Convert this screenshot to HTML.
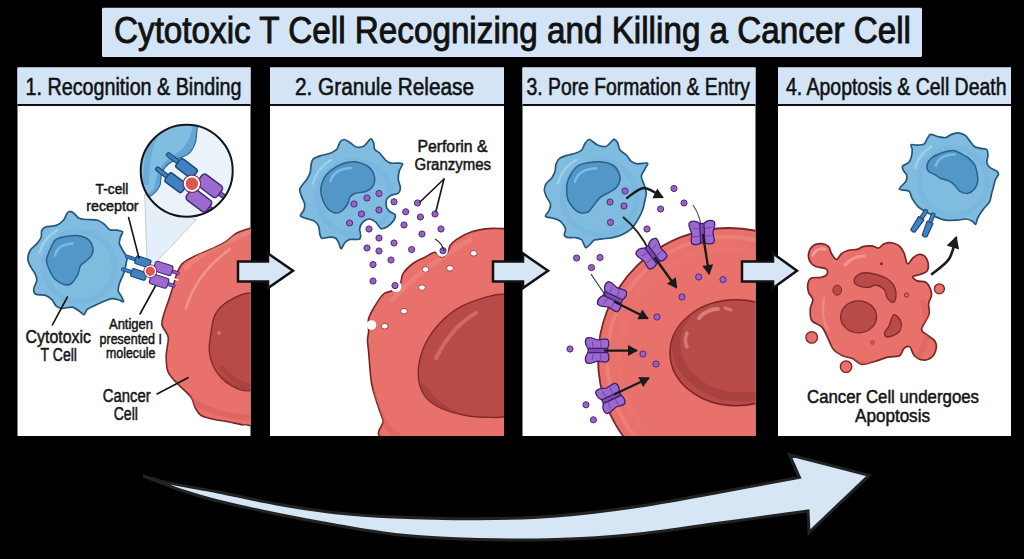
<!DOCTYPE html>
<html><head><meta charset="utf-8"><style>html,body{margin:0;padding:0;background:#000;width:1024px;height:559px;overflow:hidden}svg{display:block}</style></head>
<body><svg width="1024" height="559" viewBox="0 0 1024 559" font-family="Liberation Sans, sans-serif">
<defs><clipPath id="p0"><rect x="17.5" y="106" width="233.0" height="330"/></clipPath><clipPath id="p1"><rect x="270" y="106" width="234" height="330"/></clipPath><clipPath id="p2"><rect x="522.5" y="106" width="233.0" height="330"/></clipPath><clipPath id="p3"><rect x="778" y="106" width="233" height="330"/></clipPath><clipPath id="cc1"><path d="M300,215 C291.6,179.7 260.2,225.3 249.5,228.4 C238.8,231.5 239.9,231.3 236,233.5 C232.1,235.7 229.9,239.1 225.8,241.7 C221.7,244.3 216.5,246.6 211.4,249 C206.3,251.4 199.8,253.6 195,256 C190.2,258.4 185.7,260.3 182.6,263.4 C179.5,266.5 178.2,270.4 176.5,274.7 C174.8,279 173.7,284.6 172.3,289 C170.9,293.4 169.6,297.3 168.2,301.4 C166.8,305.5 165,309.9 164,313.8 C163,317.7 161.3,321.1 162,325 C162.7,328.9 167.5,332.2 168.2,337.3 C168.9,342.4 166.2,350.1 166.2,355.9 C166.2,361.7 166.1,367.5 168.2,372.3 C170.2,377.1 174.7,380.6 178.5,384.7 C182.3,388.8 188.2,393.2 190.9,397 C193.7,400.8 193.3,404.2 195,407.3 C196.7,410.4 197.8,413.4 201.2,415.5 C204.6,417.6 211.1,418.7 215.6,419.7 C220.1,420.7 223.6,420.8 228,421.7 C232.4,422.6 238.6,424.1 242.3,424.8 C246.1,425.5 240.9,423.3 250.5,425.8 C260.1,428.3 291.8,475.1 300,440 C308.2,404.9 308.4,250.3 300,215Z"/></clipPath><clipPath id="nc1"><path d="M250.5,293 C241,293.2 233.8,297.9 228,301.4 C222.2,304.9 218.4,309 215.6,313.8 C212.8,318.6 212.4,323.7 211.4,330 C210.4,336.3 208.7,345 209.4,351.7 C210.1,358.4 212.2,364.8 215.6,370.3 C219,375.8 224.2,381.3 230,384.7 C235.8,388.1 240.5,391.6 250.5,390.8 C260.5,390 281.8,388.5 290,380 C298.2,371.5 300.8,353.3 300,340 C299.2,326.7 293.2,307.8 285,300 C276.8,292.2 260,292.8 250.5,293Z"/></clipPath><clipPath id="mag"><circle cx="186.7" cy="170.7" r="46"/></clipPath><clipPath id="mc"><path d="M130,110 C143.2,94.2 187.8,112 199,115 C210.2,118 197.7,123.3 197,128 C196.3,132.7 196.5,138.7 195,143 C193.5,147.3 191.5,151.2 188,154 C184.5,156.8 177.8,157.8 174,160 C170.2,162.2 167.2,164.3 165,167 C162.8,169.7 161.9,172.8 161,176 C160.1,179.2 161,182.8 159.5,186 C158,189.2 155.2,192.7 152,195 C148.8,197.3 145.3,197.5 140,200 C134.7,202.5 121.7,225 120,210 C118.3,195 116.8,125.8 130,110Z"/></clipPath><clipPath id="tc5"><path d="M70,211.4 C71,211.4 73.2,212.7 74.3,213.6 C75.4,214.5 77,217.1 78.6,217.9 C80.2,218.7 83.7,219.2 86.1,219.5 C88.5,219.8 94.4,219.4 96.8,220 C99.2,220.6 102.6,223 104.3,224.3 C106,225.6 108,228.9 109.7,229.7 C111.4,230.5 115.5,229.9 117.2,230.2 C118.9,230.5 122.2,230.9 122.6,231.8 C123,232.7 120.8,235.6 120.4,237.2 C120,238.8 119.1,241.9 119.4,243.6 C119.7,245.3 121.6,248.1 122.6,250 C123.6,251.9 126.4,255.7 126.9,257.6 C127.4,259.5 126.3,262.3 126,264 C125.7,265.7 125.2,269.1 124.7,270.7 C124.2,272.3 123.3,274.4 122.6,276.1 C121.9,277.8 120,281.6 119.4,283.6 C118.8,285.6 118,289.4 118.3,291.1 C118.6,292.8 120.8,295.1 121.5,296.5 C122.2,297.9 124,301.4 123.6,301.8 C123.2,302.2 119.9,300.1 118.3,299.7 C116.7,299.3 113.5,298.5 111.8,298.6 C110.1,298.7 107.5,299.9 105.4,300.8 C103.3,301.7 98.2,303.9 95.8,305 C93.4,306.1 88.8,308.1 87.2,309.4 C85.6,310.7 85,314.4 84,314.7 C83,315 81.4,312.5 79.8,311.5 C78.2,310.5 74.6,307.6 72.3,307.2 C70,306.8 64.7,308.4 62.6,308.3 C60.5,308.2 57.6,307.2 56.2,306.1 C54.8,305 53.3,301.1 51.9,299.7 C50.5,298.3 47.6,296.1 45.5,295.4 C43.4,294.7 37.4,295.2 35.8,294.3 C34.2,293.4 33.6,290.9 33.7,289 C33.8,287.1 36.8,282.5 36.9,280.4 C37,278.3 35.6,274.8 34.7,272.9 C33.8,271 31.3,268.3 30.4,266.4 C29.5,264.5 27.8,261.2 27.8,259 C27.8,256.8 29.2,252.1 30.4,250 C31.6,247.9 35.5,245.3 36.9,243.6 C38.3,241.9 40.6,238.9 41.2,237.2 C41.8,235.5 41.1,232.2 41.7,230.8 C42.3,229.4 43.6,227.7 45.5,227 C47.4,226.3 53.8,226.3 56.2,225.4 C58.6,224.5 62.3,221.6 63.7,220 C65.1,218.4 66.1,214.7 66.9,213.6 C67.7,212.5 69,211.4 70,211.4Z"/></clipPath><clipPath id="cc2"><path d="M520,228 C517.3,191.9 509.2,228.5 504,228.6 C498.8,228.7 494.2,228.1 488.8,228.6 C483.4,229.1 477,230 471.6,231.8 C466.2,233.6 460.2,237 456.6,239.3 C453,241.6 451.4,243.7 450,245.8 C448.6,248 449.4,250.2 448,252.2 C446.6,254.1 443.7,257.5 441.5,257.5 C439.3,257.5 437.9,252.2 435,252.2 C432.1,252.2 428,255.7 424.4,257.5 C420.8,259.3 417.2,260.3 413.6,263 C410,265.7 405.3,269.9 403,273.6 C400.7,277.3 401.8,282.1 400,285 C398.2,287.9 394.7,289.3 392,290.8 C389.3,292.3 386.4,291.5 383.6,294 C380.8,296.5 377.5,301.7 375,305.8 C372.5,309.9 369.7,314.4 368.6,318.7 C367.5,323 368.8,328.1 368.6,331.6 C368.4,335.2 367.5,336.6 367.5,340 C367.5,343.4 367.9,344.8 368.6,352 C369.3,359.2 370.1,374.5 371.5,383 C372.9,391.5 375.1,396.8 377,403 C378.9,409.2 380.8,413.8 383,420 C385.2,426.2 367.2,435.8 390,440 C412.8,444.2 498.3,480.3 520,445 C541.7,409.7 522.7,264.1 520,228Z"/></clipPath><clipPath id="nc2"><path d="M504,294.3 C496.7,293.8 493.3,295.1 486,297.2 C478.7,299.3 467.7,302.9 460,307.2 C452.3,311.5 445.7,317 440,323 C434.3,329 429.4,335.9 425.8,343 C422.2,350.1 419.7,358.7 418.7,365.9 C417.7,373.1 418.3,380.3 420,386 C421.7,391.7 424.4,396.2 428.7,400.2 C433,404.2 439.1,407.6 445.8,410.2 C452.5,412.8 461.2,414.8 468.8,416 C476.4,417.2 485.8,417.3 491.7,417.4 C497.6,417.5 497.6,418 504,416.8 C510.4,415.6 525.7,429.5 530,410 C534.3,390.5 534.3,319.3 530,300 C525.7,280.7 511.3,294.8 504,294.3Z"/></clipPath><clipPath id="tc8"><path d="M344.4,139.5 C345.7,139.6 348.4,141.7 350,142.7 C351.6,143.7 354.5,146.6 356.4,147 C358.3,147.4 362.1,147.1 364,146 C365.9,144.9 369.1,139.4 370.4,139 C371.7,138.6 373,141.3 373.6,142.7 C374.2,144.1 373.8,147.8 374.7,149.2 C375.6,150.6 378.6,152.1 380,153.5 C381.4,154.9 384,158.7 385.4,160 C386.8,161.3 389.1,162.7 390.8,163.1 C392.5,163.5 396.7,163 398.3,163.1 C399.9,163.2 402.5,163.2 402.6,164.2 C402.7,165.2 400,168.6 399.4,170.6 C398.8,172.6 398.2,176.9 398.3,179.2 C398.4,181.5 400.4,185.9 400.4,187.8 C400.4,189.7 399.6,192.2 398.3,193.2 C397,194.2 392.4,194.5 390.8,195.4 C389.2,196.3 387.1,198.1 386.5,199.7 C385.9,201.3 386.1,205.6 386.5,207.2 C386.9,208.8 388.6,210.5 389.7,211.5 C390.8,212.5 394.4,213.6 395,214.7 C395.6,215.8 395,218.4 394,220 C393,221.6 389.3,225.4 387.6,226.5 C385.9,227.6 382.7,229.2 381.1,228.6 C379.5,228 377.4,223.5 375.8,222.2 C374.2,220.9 371,219 369.3,219 C367.6,219 364.2,220.9 362.9,222.2 C361.6,223.5 360,226.7 359.7,228.6 C359.4,230.5 360.8,234.7 360.7,236.1 C360.6,237.5 360,239 358.6,239.4 C357.2,239.8 351.8,239 350,239.4 C348.2,239.8 346.2,241.2 345,242.5 C343.8,243.8 342,248.9 341.2,249 C340.4,249.1 339.7,245 339,243.6 C338.3,242.2 337.1,239.2 335.8,238.3 C334.5,237.4 331.3,237.2 329.4,237.2 C327.5,237.2 323.2,238.7 321.9,238.3 C320.6,237.9 320.2,235.6 319.8,234 C319.4,232.4 319.4,228.2 318.7,226.5 C318,224.8 316.1,222.2 314.4,221.1 C312.7,220 307.7,219.1 305.8,218.4 C303.9,217.7 300.7,216.9 300.4,215.8 C300.1,214.7 303.1,212 303.7,210.4 C304.3,208.8 305,205.9 304.7,204 C304.4,202.1 302.2,198.4 301.5,196.4 C300.8,194.4 299.1,191.3 299.8,189 C300.5,186.7 305.5,181.4 306.9,179.2 C308.3,177 309.5,174.8 310.1,172.8 C310.7,170.8 310.8,166.1 311.2,164.2 C311.6,162.3 312,159.9 313.3,158.8 C314.6,157.7 318.7,156.3 320.8,155.6 C322.9,154.9 327.3,154.4 329.4,153.5 C331.5,152.6 335.5,150.8 336.9,149.2 C338.3,147.6 339.1,143 340.1,141.7 C341.1,140.4 343.1,139.4 344.4,139.5Z"/></clipPath><clipPath id="cc3"><circle cx="729" cy="359" r="131"/></clipPath><clipPath id="nc3"><ellipse cx="736" cy="352.7" rx="66" ry="53"/></clipPath><clipPath id="tc11"><path d="M589.5,139.5 C591.2,139.7 595.3,144.1 597.5,145 C599.7,145.9 604.1,147 606.3,146.3 C608.5,145.6 612.3,139.9 613.8,139.4 C615.3,138.9 616.7,141.1 617.5,142.5 C618.3,143.9 618.8,148.3 620,150 C621.2,151.7 624.8,153.5 626.3,155 C627.8,156.5 629.8,160.1 631.3,161.3 C632.8,162.5 635.4,163.5 637.6,163.8 C639.8,164.1 646.6,162.5 647.6,163.2 C648.6,163.9 645.8,167.1 645,168.8 C644.2,170.5 641.5,174.3 641.3,176.3 C641.1,178.3 643.1,181.6 643.8,183.8 C644.5,186 646.1,190.4 646.3,192.6 C646.5,194.8 645.5,197.7 645,200 C644.5,202.3 643.6,207.3 642.6,210 C641.6,212.7 639.1,217.5 637.6,220 C636.1,222.5 633.5,226.8 631.3,228.8 C629.1,230.8 623.8,233.8 621.3,235 C618.8,236.2 615,237.1 612.5,237.6 C610,238.1 604.9,238.5 602.5,238.8 C600.1,239.1 595.9,239.3 594.3,240 C592.7,240.7 591.8,242.8 590.6,243.8 C589.4,244.8 586.8,248.1 585.6,247.6 C584.4,247.1 583.1,241.3 581.8,240 C580.5,238.7 577.4,237.9 575.6,237.6 C573.8,237.3 569.5,237.9 568,237.6 C566.5,237.3 564.6,236.2 564.3,235 C564,233.8 566,230.6 565.5,228.8 C565,227 562.2,222.7 560.5,221.3 C558.8,219.9 555,218.9 553,218.2 C551,217.5 546,217.4 545.5,216.3 C545,215.2 548.6,211.7 549.3,210 C550,208.3 550.8,205.5 550.5,203.8 C550.2,202.1 547.6,199.3 546.8,197.5 C546,195.7 544.4,191.9 544.3,190 C544.2,188.1 545.4,184.9 546.4,183.3 C547.4,181.7 550.7,179.6 551.8,178 C552.9,176.4 554.4,173.4 555,171.5 C555.6,169.6 555.4,165.7 556,164 C556.6,162.3 557.9,159.7 559.3,158.6 C560.7,157.5 564.7,156.1 566.8,155.4 C568.9,154.7 573.4,153.9 575.4,153.2 C577.4,152.5 580.5,151.3 581.8,150 C583.1,148.7 584,145 585,143.6 C586,142.2 587.8,139.3 589.5,139.5Z"/></clipPath><clipPath id="cb4"><path d="M808.6,253.7 C809.1,251.1 810.8,247.6 812.9,245.9 C815,244.2 818.9,243.6 821.5,243.7 C824.1,243.8 826.9,244.9 828.6,246.6 C830.3,248.3 830.2,251.5 831.5,253.7 C832.8,255.8 834.8,259.5 836.5,259.5 C838.2,259.5 839.5,255.2 841.5,253.7 C843.5,252.1 846,250.9 848.6,250.2 C851.2,249.5 854.8,250 857.2,249.4 C859.6,248.8 860.6,247.2 863,246.6 C865.4,246 868.9,245.7 871.5,245.9 C874.1,246.1 876.5,248.4 878.6,248 C880.7,247.6 881.9,244.5 884.3,243.7 C886.7,242.9 890.3,242.5 892.9,243 C895.5,243.5 898.1,244.8 900,246.6 C901.9,248.4 903,250.8 904.3,253.7 C905.5,256.6 906.1,263.1 907.5,263.8 C908.9,264.5 911,259.6 912.9,258 C914.8,256.4 916.7,254.8 918.6,254.5 C920.5,254.2 922.8,254.6 924.4,255.9 C926,257.2 927.5,259.8 928,262.3 C928.5,264.8 928.5,268.9 927.2,270.9 C925.9,272.9 922.4,273.6 920,274.5 C917.6,275.4 913.4,275.5 912.9,276.6 C912.4,277.7 915.1,279.9 917.2,280.9 C919.4,281.8 923.7,281.1 925.8,282.3 C927.9,283.5 929,285.9 930,288 C931,290.1 931.7,292.6 931.5,295.2 C931.3,297.8 929,300.6 928.6,303.8 C928.2,307 930.1,310.4 928.9,314.6 C927.7,318.9 921.9,325.9 921.6,329.3 C921.4,332.7 925.2,333.2 927.4,335.2 C929.6,337.1 933.3,338.8 934.8,341 C936.3,343.2 936.7,345.6 936.2,348.3 C935.7,351 934,355.2 931.8,357.1 C929.6,359.1 925.9,360.2 923,360 C920.1,359.8 916.5,357.9 914.3,355.7 C912.1,353.5 911.6,348.1 909.9,346.9 C908.2,345.7 905.7,346.8 904,348.3 C902.3,349.8 902.3,354.2 899.6,355.7 C896.9,357.2 892,356.1 887.9,357.1 C883.8,358.1 879.1,360.3 874.7,361.5 C870.3,362.7 865.2,364.9 861.5,364.4 C857.8,363.9 855.9,360.1 852.7,358.6 C849.5,357.2 845.7,357.2 842.5,355.7 C839.3,354.2 836.2,352.7 833.7,349.8 C831.2,346.9 829.8,341.9 827.8,338.1 C825.8,334.3 824.7,330 822,327.1 C819.3,324.2 813.7,323.6 811.7,320.5 C809.8,317.4 810.1,312.3 810.3,308.8 C810.5,305.3 813.2,302.2 812.9,299.5 C812.6,296.8 809.4,295 808.6,292.4 C807.8,289.8 807.4,286.2 807.9,283.8 C808.4,281.4 809.1,279.1 811.4,278 C813.7,276.9 818.9,278 821.5,277.3 C824.1,276.6 826.5,275.2 827.2,273.8 C827.9,272.4 827.7,270 825.8,268.8 C823.9,267.6 818.3,267.8 815.7,266.6 C813.1,265.4 811.2,263.8 810,261.6 C808.8,259.5 808.1,256.3 808.6,253.7Z"/></clipPath><clipPath id="tc14"><path d="M930.4,134.4 C931.8,134.1 935.9,136.2 937.9,136.6 C939.9,137 943.6,138 945.4,137.7 C947.2,137.4 949.7,135.1 951.4,134.4 C953.1,133.7 956,132.7 957.9,132.8 C959.8,132.9 963.8,134.4 965.4,135.5 C967,136.6 968.6,139.5 969.7,140.9 C970.8,142.3 972.6,145.2 974,146.2 C975.4,147.2 978.7,148 980.4,148.4 C982.1,148.8 985.8,148.5 986.8,149.5 C987.8,150.5 987.9,154.2 987.9,155.9 C987.9,157.6 986.5,160.7 986.8,162.3 C987.1,163.9 988.8,166.6 990.1,167.7 C991.4,168.8 995.4,170 996.5,170.9 C997.6,171.8 998.7,173 998.6,174.1 C998.5,175.2 996,178 995.4,179.5 C994.8,181 994.3,183.9 993.8,185.7 C993.3,187.5 992.3,191.1 991.7,193.3 C991.1,195.5 990.6,199.8 989.5,201.9 C988.4,204 984.7,207.3 983.1,209.4 C981.5,211.5 978.7,216 977.7,218 C976.7,220 976.3,224 975.6,224.4 C974.9,224.8 973.6,221.9 972.3,221.2 C971,220.5 967.9,219.1 965.9,219 C963.9,218.9 960,220 957.3,220.1 C954.6,220.2 948.4,220.5 945.5,220.1 C942.6,219.7 938.2,217.9 935.8,216.9 C933.4,215.9 929.5,213.9 927.2,212.6 C924.9,211.3 920.6,209.1 918.6,207.2 C916.6,205.3 913.5,200.7 912.2,198.6 C910.9,196.5 910.7,192.4 909,191.1 C907.3,189.8 899.7,190.3 899.3,189 C898.9,187.7 904.7,183.4 905.7,181.6 C906.7,179.8 907.1,176.6 906.8,175.2 C906.5,173.8 904.2,172.1 903.6,170.9 C903,169.7 901.8,167.2 902.5,166.1 C903.2,165 907.8,163.7 909,162.3 C910.2,160.9 911.2,157.6 911.6,155.9 C912,154.2 912.3,151 912.2,149.5 C912.1,148 910.5,145.2 911.1,144.6 C911.7,144 914.8,145.3 916.5,145.2 C918.2,145.1 922.6,145 924,144.1 C925.4,143.2 926.3,140 927.2,138.7 C928.1,137.4 929,134.7 930.4,134.4Z"/></clipPath></defs>
<rect width="1024" height="559" fill="#000"/>
<rect x="102" y="7.8" width="820" height="49.2" rx="1.5" fill="#d2e4f5"/>
<text x="114" y="42.5" font-size="37" textLength="797" lengthAdjust="spacingAndGlyphs" fill="#111" stroke="#111" stroke-width="0.9">Cytotoxic T Cell Recognizing and Killing a Cancer Cell</text>
<rect x="17.5" y="67.5" width="233.0" height="368.5" fill="#fff"/>
<rect x="17.5" y="67.5" width="233.0" height="37.5" fill="#d2e4f5"/>
<rect x="17.5" y="104" width="233.0" height="2" fill="#111"/>
<text x="25.5" y="94.5" font-size="23" textLength="216" lengthAdjust="spacingAndGlyphs" fill="#111" stroke="#111" stroke-width="0.55">1. Recognition &amp; Binding</text>
<rect x="270" y="67.5" width="234" height="368.5" fill="#fff"/>
<rect x="270" y="67.5" width="234" height="37.5" fill="#d2e4f5"/>
<rect x="270" y="104" width="234" height="2" fill="#111"/>
<text x="295" y="94.5" font-size="23" textLength="179" lengthAdjust="spacingAndGlyphs" fill="#111" stroke="#111" stroke-width="0.55">2. Granule Release</text>
<rect x="522.5" y="67.5" width="233.0" height="368.5" fill="#fff"/>
<rect x="522.5" y="67.5" width="233.0" height="37.5" fill="#d2e4f5"/>
<rect x="522.5" y="104" width="233.0" height="2" fill="#111"/>
<text x="526.5" y="94.5" font-size="23" textLength="223.5" lengthAdjust="spacingAndGlyphs" fill="#111" stroke="#111" stroke-width="0.55">3. Pore Formation &amp; Entry</text>
<rect x="778" y="67.5" width="233" height="368.5" fill="#fff"/>
<rect x="778" y="67.5" width="233" height="37.5" fill="#d2e4f5"/>
<rect x="778" y="104" width="233" height="2" fill="#111"/>
<text x="786" y="94.5" font-size="23" textLength="220.5" lengthAdjust="spacingAndGlyphs" fill="#111" stroke="#111" stroke-width="0.55">4. Apoptosis &amp; Cell Death</text>
<g clip-path="url(#p0)">
<path d="M300,215 C291.6,179.7 260.2,225.3 249.5,228.4 C238.8,231.5 239.9,231.3 236,233.5 C232.1,235.7 229.9,239.1 225.8,241.7 C221.7,244.3 216.5,246.6 211.4,249 C206.3,251.4 199.8,253.6 195,256 C190.2,258.4 185.7,260.3 182.6,263.4 C179.5,266.5 178.2,270.4 176.5,274.7 C174.8,279 173.7,284.6 172.3,289 C170.9,293.4 169.6,297.3 168.2,301.4 C166.8,305.5 165,309.9 164,313.8 C163,317.7 161.3,321.1 162,325 C162.7,328.9 167.5,332.2 168.2,337.3 C168.9,342.4 166.2,350.1 166.2,355.9 C166.2,361.7 166.1,367.5 168.2,372.3 C170.2,377.1 174.7,380.6 178.5,384.7 C182.3,388.8 188.2,393.2 190.9,397 C193.7,400.8 193.3,404.2 195,407.3 C196.7,410.4 197.8,413.4 201.2,415.5 C204.6,417.6 211.1,418.7 215.6,419.7 C220.1,420.7 223.6,420.8 228,421.7 C232.4,422.6 238.6,424.1 242.3,424.8 C246.1,425.5 240.9,423.3 250.5,425.8 C260.1,428.3 291.8,475.1 300,440 C308.2,404.9 308.4,250.3 300,215Z" fill="#e8716b" stroke="#7a2525" stroke-width="1.6"/>
<g clip-path="url(#cc1)">
<path d="M249,232 C225,242 200,252 186,268" fill="none" stroke="#f08c84" stroke-width="5" opacity="0.6" stroke-linecap="round"/>
<path d="M230,249 C212,262 194,282 186,308" fill="none" stroke="#f4a59d" stroke-width="2.5" opacity="0.7" stroke-linecap="round"/>
<path d="M180,392 C200,410 225,416 252,418" fill="none" stroke="#d65f59" stroke-width="6" opacity="0.6" stroke-linecap="round"/>
</g>
<path d="M250.5,293 C241,293.2 233.8,297.9 228,301.4 C222.2,304.9 218.4,309 215.6,313.8 C212.8,318.6 212.4,323.7 211.4,330 C210.4,336.3 208.7,345 209.4,351.7 C210.1,358.4 212.2,364.8 215.6,370.3 C219,375.8 224.2,381.3 230,384.7 C235.8,388.1 240.5,391.6 250.5,390.8 C260.5,390 281.8,388.5 290,380 C298.2,371.5 300.8,353.3 300,340 C299.2,326.7 293.2,307.8 285,300 C276.8,292.2 260,292.8 250.5,293Z" fill="#b84b48" stroke="#7d2a2a" stroke-width="1.4"/>
<g clip-path="url(#nc1)">
<path d="M222,368 C232,380 242,385 252,386" fill="none" stroke="#a23f3d" stroke-width="5" opacity="0.7" stroke-linecap="round"/>
<path d="M212,370 C222,384 236,390 252,392" fill="none" stroke="#9b3b39" stroke-width="7" opacity="0.6"/>
</g>
<circle cx="219" cy="333" r="2" fill="#e07a75" opacity="0.8"/>
<path d="M144.7,194 L196,220 L155,263 L147,259Z" fill="#e2eef8" stroke="#a9bccb" stroke-width="0.8" opacity="0.9"/>
<circle cx="186.7" cy="170.7" r="46" fill="#eaf3fa"/>
<g clip-path="url(#mag)">
<path d="M130,110 C143.2,94.2 187.8,112 199,115 C210.2,118 197.7,123.3 197,128 C196.3,132.7 196.5,138.7 195,143 C193.5,147.3 191.5,151.2 188,154 C184.5,156.8 177.8,157.8 174,160 C170.2,162.2 167.2,164.3 165,167 C162.8,169.7 161.9,172.8 161,176 C160.1,179.2 161,182.8 159.5,186 C158,189.2 155.2,192.7 152,195 C148.8,197.3 145.3,197.5 140,200 C134.7,202.5 121.7,225 120,210 C118.3,195 116.8,125.8 130,110Z" fill="#80bde0" stroke="#24577a" stroke-width="1.5"/>
<g clip-path="url(#mc)"><path d="M199,118 C196,140 190,152 174,160 C163,168 160,178 159,188 C156,196 148,200 135,203" fill="none" stroke="#5d9fd2" stroke-width="9" opacity="0.8"/><path d="M160,128 C150,140 146,160 146,185" fill="none" stroke="#5d9fd2" stroke-width="6" opacity="0.6"/></g>
<g transform="translate(191.9,183.7) rotate(37) scale(1.0)"><rect x="-38" y="-11" width="17" height="4" rx="1.5" fill="#3f82c2" stroke="#1d4a78" stroke-width="1.2"/><rect x="-24" y="-14.5" width="21" height="11" rx="2.5" fill="#3f82c2" stroke="#1d4a78" stroke-width="1.5"/><rect x="24" y="-11" width="14" height="4" rx="1.5" fill="#8a5cc0" stroke="#47297a" stroke-width="1.2"/><rect x="3" y="-16" width="25" height="14" rx="3.5" fill="#9b6bd0" stroke="#47297a" stroke-width="1.5"/><rect x="-38" y="7" width="17" height="4" rx="1.5" fill="#3f82c2" stroke="#1d4a78" stroke-width="1.2"/><rect x="-24" y="3.5" width="21" height="11" rx="2.5" fill="#3f82c2" stroke="#1d4a78" stroke-width="1.5"/><rect x="24" y="7" width="14" height="4" rx="1.5" fill="#8a5cc0" stroke="#47297a" stroke-width="1.2"/><rect x="3" y="2" width="25" height="14" rx="3.5" fill="#9b6bd0" stroke="#47297a" stroke-width="1.5"/><line x1="-5" y1="0" x2="40" y2="0" stroke="#fff" stroke-width="2.2"/><circle cx="0" cy="0" r="7.2" fill="#de5753" stroke="#fff" stroke-width="1.8"/><circle cx="0" cy="0" r="8.8" fill="none" stroke="#7a2b4c" stroke-width="1"/></g>
</g>
<circle cx="186.7" cy="170.7" r="46" fill="none" stroke="#151515" stroke-width="2"/>
<g>
<path d="M70,211.4 C71,211.4 73.2,212.7 74.3,213.6 C75.4,214.5 77,217.1 78.6,217.9 C80.2,218.7 83.7,219.2 86.1,219.5 C88.5,219.8 94.4,219.4 96.8,220 C99.2,220.6 102.6,223 104.3,224.3 C106,225.6 108,228.9 109.7,229.7 C111.4,230.5 115.5,229.9 117.2,230.2 C118.9,230.5 122.2,230.9 122.6,231.8 C123,232.7 120.8,235.6 120.4,237.2 C120,238.8 119.1,241.9 119.4,243.6 C119.7,245.3 121.6,248.1 122.6,250 C123.6,251.9 126.4,255.7 126.9,257.6 C127.4,259.5 126.3,262.3 126,264 C125.7,265.7 125.2,269.1 124.7,270.7 C124.2,272.3 123.3,274.4 122.6,276.1 C121.9,277.8 120,281.6 119.4,283.6 C118.8,285.6 118,289.4 118.3,291.1 C118.6,292.8 120.8,295.1 121.5,296.5 C122.2,297.9 124,301.4 123.6,301.8 C123.2,302.2 119.9,300.1 118.3,299.7 C116.7,299.3 113.5,298.5 111.8,298.6 C110.1,298.7 107.5,299.9 105.4,300.8 C103.3,301.7 98.2,303.9 95.8,305 C93.4,306.1 88.8,308.1 87.2,309.4 C85.6,310.7 85,314.4 84,314.7 C83,315 81.4,312.5 79.8,311.5 C78.2,310.5 74.6,307.6 72.3,307.2 C70,306.8 64.7,308.4 62.6,308.3 C60.5,308.2 57.6,307.2 56.2,306.1 C54.8,305 53.3,301.1 51.9,299.7 C50.5,298.3 47.6,296.1 45.5,295.4 C43.4,294.7 37.4,295.2 35.8,294.3 C34.2,293.4 33.6,290.9 33.7,289 C33.8,287.1 36.8,282.5 36.9,280.4 C37,278.3 35.6,274.8 34.7,272.9 C33.8,271 31.3,268.3 30.4,266.4 C29.5,264.5 27.8,261.2 27.8,259 C27.8,256.8 29.2,252.1 30.4,250 C31.6,247.9 35.5,245.3 36.9,243.6 C38.3,241.9 40.6,238.9 41.2,237.2 C41.8,235.5 41.1,232.2 41.7,230.8 C42.3,229.4 43.6,227.7 45.5,227 C47.4,226.3 53.8,226.3 56.2,225.4 C58.6,224.5 62.3,221.6 63.7,220 C65.1,218.4 66.1,214.7 66.9,213.6 C67.7,212.5 69,211.4 70,211.4Z" fill="#7fbce0" stroke="#24577a" stroke-width="1.7" stroke-linejoin="round"/>
<g clip-path="url(#tc5)"><circle cx="79.5" cy="266.5" r="35.2" fill="none" stroke="#6aa9d6" stroke-width="5.3" opacity="0.25"/></g>
<path d="M56.2,239.3 C58.9,237.5 65.3,236.5 69,236 C72.7,235.5 77.7,235.3 80.7,236 C83.7,236.7 87.5,238.6 89.3,240.4 C91.1,242.2 92.7,245.8 93,248 C93.3,250.2 92.5,253.5 91.5,255.4 C90.5,257.4 87.6,259.5 86,261 C84.4,262.5 82,263.3 80.7,265.4 C79.4,267.5 79,272.3 77.6,275 C76.2,277.7 73.1,282.1 71.2,283.6 C69.3,285.1 67.2,285.3 64.8,284.7 C62.4,284.1 57.4,281.4 55.1,279.3 C52.8,277.2 51,273.6 49.7,270.7 C48.4,267.8 46.3,263.4 46.5,260 C46.7,256.6 49.3,251.1 50.8,248 C52.3,244.9 53.5,241.1 56.2,239.3Z" fill="#5297c8" stroke="#2a5f8c" stroke-width="1.5"/>
<path d="M39.4,253.2 A37.8,37.8 0 0 1 57.1,230.2" fill="none" stroke="#a9d5ef" stroke-width="2.2" stroke-linecap="round" opacity="0.8"/>
<path d="M55.0,255.5 Q57.5,244.4 72.5,243.5" fill="none" stroke="#86bfe6" stroke-width="2.4" stroke-linecap="round" opacity="0.85"/>
</g>
<g transform="translate(150.3,271.2) rotate(18) scale(0.74)"><rect x="-38" y="-11" width="17" height="4" rx="1.5" fill="#3f82c2" stroke="#1d4a78" stroke-width="1.2"/><rect x="-24" y="-14.5" width="21" height="11" rx="2.5" fill="#3f82c2" stroke="#1d4a78" stroke-width="1.5"/><rect x="24" y="-11" width="14" height="4" rx="1.5" fill="#8a5cc0" stroke="#47297a" stroke-width="1.2"/><rect x="3" y="-16" width="25" height="14" rx="3.5" fill="#9b6bd0" stroke="#47297a" stroke-width="1.5"/><rect x="-38" y="7" width="17" height="4" rx="1.5" fill="#3f82c2" stroke="#1d4a78" stroke-width="1.2"/><rect x="-24" y="3.5" width="21" height="11" rx="2.5" fill="#3f82c2" stroke="#1d4a78" stroke-width="1.5"/><rect x="24" y="7" width="14" height="4" rx="1.5" fill="#8a5cc0" stroke="#47297a" stroke-width="1.2"/><rect x="3" y="2" width="25" height="14" rx="3.5" fill="#9b6bd0" stroke="#47297a" stroke-width="1.5"/><line x1="-5" y1="0" x2="40" y2="0" stroke="#fff" stroke-width="2.2"/><circle cx="0" cy="0" r="7.2" fill="#de5753" stroke="#fff" stroke-width="1.8"/><circle cx="0" cy="0" r="8.8" fill="none" stroke="#7a2b4c" stroke-width="1"/></g>
</g>
<text x="95.6" y="194.3" font-size="15" textLength="32.8" lengthAdjust="spacingAndGlyphs" fill="#151515" stroke="#151515" stroke-width="0.5">T-cell</text>
<text x="86.3" y="210.7" font-size="15" textLength="52.3" lengthAdjust="spacingAndGlyphs" fill="#151515" stroke="#151515" stroke-width="0.5">receptor</text>
<line x1="128.6" y1="217.5" x2="139" y2="258" stroke="#151515" stroke-width="1.6" stroke-linecap="round"/>
<text x="25.6" y="343" font-size="18" textLength="65.4" lengthAdjust="spacingAndGlyphs" fill="#151515" stroke="#151515" stroke-width="0.5">Cytotoxic</text>
<text x="40.6" y="361" font-size="18" textLength="36.4" lengthAdjust="spacingAndGlyphs" fill="#151515" stroke="#151515" stroke-width="0.5">T Cell</text>
<line x1="52.4" y1="324.8" x2="67.4" y2="297" stroke="#151515" stroke-width="1.6" stroke-linecap="round"/>
<text x="109" y="329" font-size="14.5" textLength="44" lengthAdjust="spacingAndGlyphs" fill="#151515" stroke="#151515" stroke-width="0.5">Antigen</text>
<text x="99.6" y="344" font-size="14.5" textLength="62.4" lengthAdjust="spacingAndGlyphs" fill="#151515" stroke="#151515" stroke-width="0.5">presented I</text>
<text x="106" y="358" font-size="14.5" textLength="49.4" lengthAdjust="spacingAndGlyphs" fill="#151515" stroke="#151515" stroke-width="0.5">molecule</text>
<line x1="140" y1="314" x2="155.4" y2="286" stroke="#151515" stroke-width="1.6" stroke-linecap="round"/>
<text x="102.8" y="402" font-size="18" textLength="48" lengthAdjust="spacingAndGlyphs" fill="#151515" stroke="#151515" stroke-width="0.5">Cancer</text>
<text x="113.7" y="419.7" font-size="18" textLength="24.3" lengthAdjust="spacingAndGlyphs" fill="#151515" stroke="#151515" stroke-width="0.5">Cell</text>
<line x1="157" y1="394" x2="188" y2="377.7" stroke="#151515" stroke-width="1.6" stroke-linecap="round"/>
<g clip-path="url(#p1)">
<path d="M520,228 C517.3,191.9 509.2,228.5 504,228.6 C498.8,228.7 494.2,228.1 488.8,228.6 C483.4,229.1 477,230 471.6,231.8 C466.2,233.6 460.2,237 456.6,239.3 C453,241.6 451.4,243.7 450,245.8 C448.6,248 449.4,250.2 448,252.2 C446.6,254.1 443.7,257.5 441.5,257.5 C439.3,257.5 437.9,252.2 435,252.2 C432.1,252.2 428,255.7 424.4,257.5 C420.8,259.3 417.2,260.3 413.6,263 C410,265.7 405.3,269.9 403,273.6 C400.7,277.3 401.8,282.1 400,285 C398.2,287.9 394.7,289.3 392,290.8 C389.3,292.3 386.4,291.5 383.6,294 C380.8,296.5 377.5,301.7 375,305.8 C372.5,309.9 369.7,314.4 368.6,318.7 C367.5,323 368.8,328.1 368.6,331.6 C368.4,335.2 367.5,336.6 367.5,340 C367.5,343.4 367.9,344.8 368.6,352 C369.3,359.2 370.1,374.5 371.5,383 C372.9,391.5 375.1,396.8 377,403 C378.9,409.2 380.8,413.8 383,420 C385.2,426.2 367.2,435.8 390,440 C412.8,444.2 498.3,480.3 520,445 C541.7,409.7 522.7,264.1 520,228Z" fill="#e8716b" stroke="#7a2525" stroke-width="1.6"/>
<g clip-path="url(#cc2)"><path d="M470,240 C440,258 415,275 392,300" fill="none" stroke="#f08c84" stroke-width="5" opacity="0.5" stroke-linecap="round"/><path d="M372,390 C380,420 390,440 420,445" fill="none" stroke="#d65f59" stroke-width="6" opacity="0.5"/></g>
<path d="M504,294.3 C496.7,293.8 493.3,295.1 486,297.2 C478.7,299.3 467.7,302.9 460,307.2 C452.3,311.5 445.7,317 440,323 C434.3,329 429.4,335.9 425.8,343 C422.2,350.1 419.7,358.7 418.7,365.9 C417.7,373.1 418.3,380.3 420,386 C421.7,391.7 424.4,396.2 428.7,400.2 C433,404.2 439.1,407.6 445.8,410.2 C452.5,412.8 461.2,414.8 468.8,416 C476.4,417.2 485.8,417.3 491.7,417.4 C497.6,417.5 497.6,418 504,416.8 C510.4,415.6 525.7,429.5 530,410 C534.3,390.5 534.3,319.3 530,300 C525.7,280.7 511.3,294.8 504,294.3Z" fill="#b84b48" stroke="#7d2a2a" stroke-width="1.4"/>
<g clip-path="url(#nc2)"><path d="M420,385 C435,410 460,424 500,426" fill="none" stroke="#9b3b39" stroke-width="9" opacity="0.6"/></g>
<path d="M476,313 C460,322 446,338 436,358" fill="none" stroke="#d5716c" stroke-width="4" opacity="0.8" stroke-linecap="round"/>
<circle cx="442" cy="251" r="5.8" fill="#fff"/>
<circle cx="396" cy="286.5" r="5.5" fill="#fff"/>
<circle cx="371.5" cy="325" r="4.8" fill="#fff"/>
<ellipse cx="425.5" cy="269.4" rx="3.4" ry="2.8" fill="#fff" stroke="#9a3a3a" stroke-width="0.9"/>
<ellipse cx="450" cy="268.3" rx="3.4" ry="2.8" fill="#fff" stroke="#9a3a3a" stroke-width="0.9"/>
<ellipse cx="422" cy="287.6" rx="3.4" ry="2.8" fill="#fff" stroke="#9a3a3a" stroke-width="0.9"/>
<ellipse cx="404" cy="311.2" rx="3.4" ry="2.8" fill="#fff" stroke="#9a3a3a" stroke-width="0.9"/>
<ellipse cx="384.7" cy="326.2" rx="3.4" ry="2.8" fill="#fff" stroke="#9a3a3a" stroke-width="0.9"/>
<ellipse cx="473.7" cy="253.3" rx="3.4" ry="2.8" fill="#fff" stroke="#9a3a3a" stroke-width="0.9"/>
<g>
<path d="M344.4,139.5 C345.7,139.6 348.4,141.7 350,142.7 C351.6,143.7 354.5,146.6 356.4,147 C358.3,147.4 362.1,147.1 364,146 C365.9,144.9 369.1,139.4 370.4,139 C371.7,138.6 373,141.3 373.6,142.7 C374.2,144.1 373.8,147.8 374.7,149.2 C375.6,150.6 378.6,152.1 380,153.5 C381.4,154.9 384,158.7 385.4,160 C386.8,161.3 389.1,162.7 390.8,163.1 C392.5,163.5 396.7,163 398.3,163.1 C399.9,163.2 402.5,163.2 402.6,164.2 C402.7,165.2 400,168.6 399.4,170.6 C398.8,172.6 398.2,176.9 398.3,179.2 C398.4,181.5 400.4,185.9 400.4,187.8 C400.4,189.7 399.6,192.2 398.3,193.2 C397,194.2 392.4,194.5 390.8,195.4 C389.2,196.3 387.1,198.1 386.5,199.7 C385.9,201.3 386.1,205.6 386.5,207.2 C386.9,208.8 388.6,210.5 389.7,211.5 C390.8,212.5 394.4,213.6 395,214.7 C395.6,215.8 395,218.4 394,220 C393,221.6 389.3,225.4 387.6,226.5 C385.9,227.6 382.7,229.2 381.1,228.6 C379.5,228 377.4,223.5 375.8,222.2 C374.2,220.9 371,219 369.3,219 C367.6,219 364.2,220.9 362.9,222.2 C361.6,223.5 360,226.7 359.7,228.6 C359.4,230.5 360.8,234.7 360.7,236.1 C360.6,237.5 360,239 358.6,239.4 C357.2,239.8 351.8,239 350,239.4 C348.2,239.8 346.2,241.2 345,242.5 C343.8,243.8 342,248.9 341.2,249 C340.4,249.1 339.7,245 339,243.6 C338.3,242.2 337.1,239.2 335.8,238.3 C334.5,237.4 331.3,237.2 329.4,237.2 C327.5,237.2 323.2,238.7 321.9,238.3 C320.6,237.9 320.2,235.6 319.8,234 C319.4,232.4 319.4,228.2 318.7,226.5 C318,224.8 316.1,222.2 314.4,221.1 C312.7,220 307.7,219.1 305.8,218.4 C303.9,217.7 300.7,216.9 300.4,215.8 C300.1,214.7 303.1,212 303.7,210.4 C304.3,208.8 305,205.9 304.7,204 C304.4,202.1 302.2,198.4 301.5,196.4 C300.8,194.4 299.1,191.3 299.8,189 C300.5,186.7 305.5,181.4 306.9,179.2 C308.3,177 309.5,174.8 310.1,172.8 C310.7,170.8 310.8,166.1 311.2,164.2 C311.6,162.3 312,159.9 313.3,158.8 C314.6,157.7 318.7,156.3 320.8,155.6 C322.9,154.9 327.3,154.4 329.4,153.5 C331.5,152.6 335.5,150.8 336.9,149.2 C338.3,147.6 339.1,143 340.1,141.7 C341.1,140.4 343.1,139.4 344.4,139.5Z" fill="#7fbce0" stroke="#24577a" stroke-width="1.7" stroke-linejoin="round"/>
<g clip-path="url(#tc8)"><circle cx="354.7" cy="197.7" r="36.8" fill="none" stroke="#6aa9d6" stroke-width="5.5" opacity="0.25"/></g>
<path d="M336.9,166.3 C340.5,164.4 346.4,162.5 350,162 C353.6,161.5 357.8,162.3 360.7,163.1 C363.6,163.9 367.4,165.8 369.3,167.4 C371.2,169 372.8,171.9 373.6,173.8 C374.4,175.7 374.9,178.4 374.7,180.3 C374.5,182.2 373.8,185 372.5,186.7 C371.2,188.4 368.6,190.5 366,191.5 C363.4,192.5 357.8,192.4 355.4,193.2 C353,194 351.2,195.4 350,197 C348.8,198.6 348.9,201.8 347.6,204 C346.3,206.2 343.1,210.2 341.2,211.5 C339.3,212.8 336.7,213.3 334.8,213 C332.9,212.7 330.1,211.1 328.3,209.3 C326.5,207.5 324.1,203.4 323,200.7 C321.9,198 321,193.6 320.8,191 C320.6,188.4 321.1,185.9 321.9,183.5 C322.7,181.1 323.9,177.6 326.2,175 C328.4,172.4 333.3,168.2 336.9,166.3Z" fill="#5297c8" stroke="#2a5f8c" stroke-width="1.5"/>
<path d="M312.8,183.8 A39.6,39.6 0 0 1 331.2,159.7" fill="none" stroke="#a9d5ef" stroke-width="2.2" stroke-linecap="round" opacity="0.8"/>
<path d="M330.6,181.0 Q333.5,169.0 350.9,168.0" fill="none" stroke="#86bfe6" stroke-width="2.4" stroke-linecap="round" opacity="0.85"/>
</g>
</g>
<circle cx="354" cy="204" r="3.1" fill="#9a62c0" stroke="#4b2d7d" stroke-width="1"/>
<circle cx="367" cy="198" r="3.1" fill="#9a62c0" stroke="#4b2d7d" stroke-width="1"/>
<circle cx="379" cy="193.5" r="3.1" fill="#9a62c0" stroke="#4b2d7d" stroke-width="1"/>
<circle cx="379" cy="210" r="3.1" fill="#9a62c0" stroke="#4b2d7d" stroke-width="1"/>
<circle cx="361.5" cy="214" r="3.1" fill="#9a62c0" stroke="#4b2d7d" stroke-width="1"/>
<circle cx="349.6" cy="223" r="3.1" fill="#9a62c0" stroke="#4b2d7d" stroke-width="1"/>
<circle cx="394" cy="201.8" r="3.1" fill="#9a62c0" stroke="#4b2d7d" stroke-width="1"/>
<circle cx="405.7" cy="211.8" r="3.1" fill="#9a62c0" stroke="#4b2d7d" stroke-width="1"/>
<circle cx="417.5" cy="203" r="3.1" fill="#9a62c0" stroke="#4b2d7d" stroke-width="1"/>
<circle cx="420.4" cy="217" r="3.1" fill="#9a62c0" stroke="#4b2d7d" stroke-width="1"/>
<circle cx="435" cy="214" r="3.1" fill="#9a62c0" stroke="#4b2d7d" stroke-width="1"/>
<circle cx="404" cy="225" r="3.1" fill="#9a62c0" stroke="#4b2d7d" stroke-width="1"/>
<circle cx="369" cy="229" r="3.1" fill="#9a62c0" stroke="#4b2d7d" stroke-width="1"/>
<circle cx="379" cy="238" r="3.1" fill="#9a62c0" stroke="#4b2d7d" stroke-width="1"/>
<circle cx="394" cy="243" r="3.1" fill="#9a62c0" stroke="#4b2d7d" stroke-width="1"/>
<circle cx="422" cy="234" r="3.1" fill="#9a62c0" stroke="#4b2d7d" stroke-width="1"/>
<circle cx="441" cy="229" r="3.1" fill="#9a62c0" stroke="#4b2d7d" stroke-width="1"/>
<circle cx="367" cy="248" r="3.1" fill="#9a62c0" stroke="#4b2d7d" stroke-width="1"/>
<circle cx="379" cy="251" r="3.1" fill="#9a62c0" stroke="#4b2d7d" stroke-width="1"/>
<circle cx="411.6" cy="249.5" r="3.1" fill="#9a62c0" stroke="#4b2d7d" stroke-width="1"/>
<circle cx="391" cy="260" r="3.1" fill="#9a62c0" stroke="#4b2d7d" stroke-width="1"/>
<circle cx="373" cy="264.6" r="3.1" fill="#9a62c0" stroke="#4b2d7d" stroke-width="1"/>
<circle cx="373" cy="281" r="3.1" fill="#9a62c0" stroke="#4b2d7d" stroke-width="1"/>
<circle cx="395" cy="285.6" r="3.1" fill="#9a62c0" stroke="#4b2d7d" stroke-width="1"/>
<circle cx="443" cy="250.7" r="3.1" fill="#9a62c0" stroke="#4b2d7d" stroke-width="1"/>
<text x="417.5" y="152" font-size="16" textLength="70" lengthAdjust="spacingAndGlyphs" fill="#151515" stroke="#151515" stroke-width="0.5">Perforin &amp;</text>
<text x="414.5" y="170" font-size="16" textLength="76.5" lengthAdjust="spacingAndGlyphs" fill="#151515" stroke="#151515" stroke-width="0.5">Granzymes</text>
<line x1="444" y1="179" x2="420" y2="202" stroke="#151515" stroke-width="1.6" stroke-linecap="round"/>
<line x1="444" y1="179" x2="436" y2="211" stroke="#151515" stroke-width="1.6" stroke-linecap="round"/>
<path d="M435,239 C440,242 443,246 444,251" fill="none" stroke="#222" stroke-width="1.1"/>
<g clip-path="url(#p2)">
<circle cx="729" cy="359" r="131" fill="#e8716b" stroke="#7a2525" stroke-width="1.8"/>
<g clip-path="url(#cc3)"><circle cx="729" cy="359" r="122" fill="none" stroke="#ee8a83" stroke-width="4" opacity="0.55"/><circle cx="729" cy="359" r="110" fill="none" stroke="#ea7c76" stroke-width="6" opacity="0.3"/></g>
<ellipse cx="736" cy="352.7" rx="66" ry="53" fill="#b84b48" stroke="#7a2525" stroke-width="1.5"/>
<g clip-path="url(#nc3)"><ellipse cx="742" cy="344" rx="66" ry="53" fill="none" stroke="#a13d3b" stroke-width="9" opacity="0.65"/></g>
<path d="M699,318 C704,312 712,309 718,309" fill="none" stroke="#e08a86" stroke-width="4" stroke-linecap="round" opacity="0.8"/><path d="M687,333 C685,338 685,343 687,347" fill="none" stroke="#e08a86" stroke-width="3.5" stroke-linecap="round" opacity="0.7"/><path d="M725,308 L731,310" stroke="#e08a86" stroke-width="3" stroke-linecap="round" opacity="0.7"/>
<g>
<path d="M589.5,139.5 C591.2,139.7 595.3,144.1 597.5,145 C599.7,145.9 604.1,147 606.3,146.3 C608.5,145.6 612.3,139.9 613.8,139.4 C615.3,138.9 616.7,141.1 617.5,142.5 C618.3,143.9 618.8,148.3 620,150 C621.2,151.7 624.8,153.5 626.3,155 C627.8,156.5 629.8,160.1 631.3,161.3 C632.8,162.5 635.4,163.5 637.6,163.8 C639.8,164.1 646.6,162.5 647.6,163.2 C648.6,163.9 645.8,167.1 645,168.8 C644.2,170.5 641.5,174.3 641.3,176.3 C641.1,178.3 643.1,181.6 643.8,183.8 C644.5,186 646.1,190.4 646.3,192.6 C646.5,194.8 645.5,197.7 645,200 C644.5,202.3 643.6,207.3 642.6,210 C641.6,212.7 639.1,217.5 637.6,220 C636.1,222.5 633.5,226.8 631.3,228.8 C629.1,230.8 623.8,233.8 621.3,235 C618.8,236.2 615,237.1 612.5,237.6 C610,238.1 604.9,238.5 602.5,238.8 C600.1,239.1 595.9,239.3 594.3,240 C592.7,240.7 591.8,242.8 590.6,243.8 C589.4,244.8 586.8,248.1 585.6,247.6 C584.4,247.1 583.1,241.3 581.8,240 C580.5,238.7 577.4,237.9 575.6,237.6 C573.8,237.3 569.5,237.9 568,237.6 C566.5,237.3 564.6,236.2 564.3,235 C564,233.8 566,230.6 565.5,228.8 C565,227 562.2,222.7 560.5,221.3 C558.8,219.9 555,218.9 553,218.2 C551,217.5 546,217.4 545.5,216.3 C545,215.2 548.6,211.7 549.3,210 C550,208.3 550.8,205.5 550.5,203.8 C550.2,202.1 547.6,199.3 546.8,197.5 C546,195.7 544.4,191.9 544.3,190 C544.2,188.1 545.4,184.9 546.4,183.3 C547.4,181.7 550.7,179.6 551.8,178 C552.9,176.4 554.4,173.4 555,171.5 C555.6,169.6 555.4,165.7 556,164 C556.6,162.3 557.9,159.7 559.3,158.6 C560.7,157.5 564.7,156.1 566.8,155.4 C568.9,154.7 573.4,153.9 575.4,153.2 C577.4,152.5 580.5,151.3 581.8,150 C583.1,148.7 584,145 585,143.6 C586,142.2 587.8,139.3 589.5,139.5Z" fill="#7fbce0" stroke="#24577a" stroke-width="1.7" stroke-linejoin="round"/>
<g clip-path="url(#tc11)"><circle cx="599.7" cy="197.7" r="36.8" fill="none" stroke="#6aa9d6" stroke-width="5.5" opacity="0.25"/></g>
<path d="M577.6,166 C580.2,164.1 583.8,163.5 587.2,162.9 C590.6,162.3 596.2,161.5 600,161.8 C603.8,162.1 609.7,163.4 612.5,165 C615.3,166.6 617.7,170.3 618.8,172.6 C619.9,174.8 620.4,177.8 620,180 C619.6,182.2 618,185.7 616.3,187.6 C614.6,189.5 611.2,191.1 608.8,192.6 C606.4,194.1 602.4,195.5 600,197.6 C597.6,199.7 594.8,204.1 593,206.3 C591.2,208.5 590.1,211.1 588,212 C585.9,212.9 581.5,213.2 579.3,212.5 C577,211.8 574.7,209.4 573,207.5 C571.3,205.6 568.9,202.2 568,200 C567.1,197.8 566.9,195.4 566.8,193 C566.6,190.6 566.5,186.6 567,184 C567.5,181.4 568.4,178.5 570,175.8 C571.6,173.1 575,167.9 577.6,166Z" fill="#5297c8" stroke="#2a5f8c" stroke-width="1.5"/>
<path d="M557.8,183.8 A39.6,39.6 0 0 1 576.2,159.7" fill="none" stroke="#a9d5ef" stroke-width="2.2" stroke-linecap="round" opacity="0.8"/>
<path d="M575.0,181.8 Q578.0,169.3 596.0,168.2" fill="none" stroke="#86bfe6" stroke-width="2.4" stroke-linecap="round" opacity="0.85"/>
</g>
</g>
<circle cx="625" cy="191" r="3.1" fill="#9a62c0" stroke="#4b2d7d" stroke-width="1"/>
<circle cx="610" cy="202" r="3.1" fill="#9a62c0" stroke="#4b2d7d" stroke-width="1"/>
<circle cx="624" cy="206" r="3.1" fill="#9a62c0" stroke="#4b2d7d" stroke-width="1"/>
<circle cx="610.5" cy="222.4" r="3.1" fill="#9a62c0" stroke="#4b2d7d" stroke-width="1"/>
<circle cx="647" cy="229" r="3.1" fill="#9a62c0" stroke="#4b2d7d" stroke-width="1"/>
<circle cx="660.6" cy="209" r="3.1" fill="#9a62c0" stroke="#4b2d7d" stroke-width="1"/>
<circle cx="674" cy="188.5" r="3.1" fill="#9a62c0" stroke="#4b2d7d" stroke-width="1"/>
<circle cx="684" cy="203" r="3.1" fill="#9a62c0" stroke="#4b2d7d" stroke-width="1"/>
<circle cx="576.6" cy="258" r="3.1" fill="#9a62c0" stroke="#4b2d7d" stroke-width="1"/>
<circle cx="600" cy="257.5" r="3.1" fill="#9a62c0" stroke="#4b2d7d" stroke-width="1"/>
<circle cx="591.5" cy="267.6" r="3.1" fill="#9a62c0" stroke="#4b2d7d" stroke-width="1"/>
<circle cx="698.7" cy="277" r="3.1" fill="#9a62c0" stroke="#4b2d7d" stroke-width="1"/>
<circle cx="723" cy="279.6" r="3.1" fill="#9a62c0" stroke="#4b2d7d" stroke-width="1"/>
<circle cx="682" cy="297" r="3.1" fill="#9a62c0" stroke="#4b2d7d" stroke-width="1"/>
<circle cx="657" cy="317" r="3.1" fill="#9a62c0" stroke="#4b2d7d" stroke-width="1"/>
<circle cx="570" cy="349" r="3.1" fill="#9a62c0" stroke="#4b2d7d" stroke-width="1"/>
<circle cx="643" cy="354" r="3.1" fill="#9a62c0" stroke="#4b2d7d" stroke-width="1"/>
<circle cx="656" cy="364" r="3.1" fill="#9a62c0" stroke="#4b2d7d" stroke-width="1"/>
<circle cx="586" cy="404.8" r="3.1" fill="#9a62c0" stroke="#4b2d7d" stroke-width="1"/>
<circle cx="593.4" cy="419.8" r="3.1" fill="#9a62c0" stroke="#4b2d7d" stroke-width="1"/>
<path d="M627,198 C629.8,196.3 638.2,188.2 644,188 C649.8,187.8 659,195.5 662,197" fill="none" stroke="#1a1a1a" stroke-width="2.3" stroke-linecap="round"/>
<path d="M663.8,197.9 L657.3,188.5 L652.4,198.3Z" fill="#1a1a1a"/>
<path d="M623,217 C634,226 643,238 650,252" fill="none" stroke="#222" stroke-width="1.8"/>
<path d="M693,205 C698,212 701,222 702,232" fill="none" stroke="#555" stroke-width="1.2"/>
<g transform="translate(652.2,254.3) rotate(53) scale(0.85)"><rect x="-11" y="-4" width="23" height="8" fill="#7d4bb3" stroke="#3a2068" stroke-width="1.4"/><path d="M-12,-15 C-7,-16.5 -3,-12.5 1,-12.5 C5,-12.5 9,-15 12,-13 C14.5,-10 13.5,-5 12,-2.5 L-11,-2.5 C-14.5,-6 -15.5,-12.5 -12,-15Z" fill="#9d68cf" stroke="#3a2068" stroke-width="1.5"/><path d="M-12,15 C-7,16.5 -3,12.5 1,12.5 C5,12.5 9,15 12,13 C14.5,10 13.5,5 12,2.5 L-11,2.5 C-14.5,6 -15.5,12.5 -12,15Z" fill="#9d68cf" stroke="#3a2068" stroke-width="1.5"/><path d="M-6,-11 L-5,-4 M4,-11 L4,-4 M-6,11 L-5,4 M4,11 L4,4" stroke="#7346a8" stroke-width="1.2"/></g>
<g transform="translate(702.3,232.8) rotate(87) scale(0.85)"><rect x="-11" y="-4" width="23" height="8" fill="#7d4bb3" stroke="#3a2068" stroke-width="1.4"/><path d="M-12,-15 C-7,-16.5 -3,-12.5 1,-12.5 C5,-12.5 9,-15 12,-13 C14.5,-10 13.5,-5 12,-2.5 L-11,-2.5 C-14.5,-6 -15.5,-12.5 -12,-15Z" fill="#9d68cf" stroke="#3a2068" stroke-width="1.5"/><path d="M-12,15 C-7,16.5 -3,12.5 1,12.5 C5,12.5 9,15 12,13 C14.5,10 13.5,5 12,2.5 L-11,2.5 C-14.5,6 -15.5,12.5 -12,15Z" fill="#9d68cf" stroke="#3a2068" stroke-width="1.5"/><path d="M-6,-11 L-5,-4 M4,-11 L4,-4 M-6,11 L-5,4 M4,11 L4,4" stroke="#7346a8" stroke-width="1.2"/></g>
<g transform="translate(612.6,297.4) rotate(25) scale(0.85)"><rect x="-11" y="-4" width="23" height="8" fill="#7d4bb3" stroke="#3a2068" stroke-width="1.4"/><path d="M-12,-15 C-7,-16.5 -3,-12.5 1,-12.5 C5,-12.5 9,-15 12,-13 C14.5,-10 13.5,-5 12,-2.5 L-11,-2.5 C-14.5,-6 -15.5,-12.5 -12,-15Z" fill="#9d68cf" stroke="#3a2068" stroke-width="1.5"/><path d="M-12,15 C-7,16.5 -3,12.5 1,12.5 C5,12.5 9,15 12,13 C14.5,10 13.5,5 12,2.5 L-11,2.5 C-14.5,6 -15.5,12.5 -12,15Z" fill="#9d68cf" stroke="#3a2068" stroke-width="1.5"/><path d="M-6,-11 L-5,-4 M4,-11 L4,-4 M-6,11 L-5,4 M4,11 L4,4" stroke="#7346a8" stroke-width="1.2"/></g>
<g transform="translate(597.4,350.5) rotate(0) scale(0.85)"><rect x="-11" y="-4" width="23" height="8" fill="#7d4bb3" stroke="#3a2068" stroke-width="1.4"/><path d="M-12,-15 C-7,-16.5 -3,-12.5 1,-12.5 C5,-12.5 9,-15 12,-13 C14.5,-10 13.5,-5 12,-2.5 L-11,-2.5 C-14.5,-6 -15.5,-12.5 -12,-15Z" fill="#9d68cf" stroke="#3a2068" stroke-width="1.5"/><path d="M-12,15 C-7,16.5 -3,12.5 1,12.5 C5,12.5 9,15 12,13 C14.5,10 13.5,5 12,2.5 L-11,2.5 C-14.5,6 -15.5,12.5 -12,15Z" fill="#9d68cf" stroke="#3a2068" stroke-width="1.5"/><path d="M-6,-11 L-5,-4 M4,-11 L4,-4 M-6,11 L-5,4 M4,11 L4,4" stroke="#7346a8" stroke-width="1.2"/></g>
<g transform="translate(611,397.7) rotate(-25) scale(0.85)"><rect x="-11" y="-4" width="23" height="8" fill="#7d4bb3" stroke="#3a2068" stroke-width="1.4"/><path d="M-12,-15 C-7,-16.5 -3,-12.5 1,-12.5 C5,-12.5 9,-15 12,-13 C14.5,-10 13.5,-5 12,-2.5 L-11,-2.5 C-14.5,-6 -15.5,-12.5 -12,-15Z" fill="#9d68cf" stroke="#3a2068" stroke-width="1.5"/><path d="M-12,15 C-7,16.5 -3,12.5 1,12.5 C5,12.5 9,15 12,13 C14.5,10 13.5,5 12,2.5 L-11,2.5 C-14.5,6 -15.5,12.5 -12,15Z" fill="#9d68cf" stroke="#3a2068" stroke-width="1.5"/><path d="M-6,-11 L-5,-4 M4,-11 L4,-4 M-6,11 L-5,4 M4,11 L4,4" stroke="#7346a8" stroke-width="1.2"/></g>
<path d="M655,258 L676,287" fill="none" stroke="#1a1a1a" stroke-width="2.3" stroke-linecap="round"/>
<path d="M677.2,288.6 L675.8,277.3 L666.9,283.7Z" fill="#1a1a1a"/>
<path d="M703,235 L709,273" fill="none" stroke="#1a1a1a" stroke-width="2.3" stroke-linecap="round"/>
<path d="M709.3,275.0 L713.2,264.2 L702.3,266.0Z" fill="#1a1a1a"/>
<path d="M591,274 C596,282 602,290 606,296" fill="none" stroke="#333" stroke-width="1.1"/>
<path d="M615,302 L647,318" fill="none" stroke="#1a1a1a" stroke-width="2.3" stroke-linecap="round"/>
<path d="M648.8,318.9 L642.3,309.5 L637.4,319.3Z" fill="#1a1a1a"/>
<path d="M605,350.6 L636,350.6" fill="none" stroke="#1a1a1a" stroke-width="2.3" stroke-linecap="round"/>
<path d="M638.0,350.6 L628.0,345.1 L628.0,356.1Z" fill="#1a1a1a"/>
<path d="M615,394 L648,378.5" fill="none" stroke="#1a1a1a" stroke-width="2.3" stroke-linecap="round"/>
<path d="M649.8,377.6 L638.4,376.9 L643.1,386.9Z" fill="#1a1a1a"/>
<g clip-path="url(#p3)">
<path d="M808.6,253.7 C809.1,251.1 810.8,247.6 812.9,245.9 C815,244.2 818.9,243.6 821.5,243.7 C824.1,243.8 826.9,244.9 828.6,246.6 C830.3,248.3 830.2,251.5 831.5,253.7 C832.8,255.8 834.8,259.5 836.5,259.5 C838.2,259.5 839.5,255.2 841.5,253.7 C843.5,252.1 846,250.9 848.6,250.2 C851.2,249.5 854.8,250 857.2,249.4 C859.6,248.8 860.6,247.2 863,246.6 C865.4,246 868.9,245.7 871.5,245.9 C874.1,246.1 876.5,248.4 878.6,248 C880.7,247.6 881.9,244.5 884.3,243.7 C886.7,242.9 890.3,242.5 892.9,243 C895.5,243.5 898.1,244.8 900,246.6 C901.9,248.4 903,250.8 904.3,253.7 C905.5,256.6 906.1,263.1 907.5,263.8 C908.9,264.5 911,259.6 912.9,258 C914.8,256.4 916.7,254.8 918.6,254.5 C920.5,254.2 922.8,254.6 924.4,255.9 C926,257.2 927.5,259.8 928,262.3 C928.5,264.8 928.5,268.9 927.2,270.9 C925.9,272.9 922.4,273.6 920,274.5 C917.6,275.4 913.4,275.5 912.9,276.6 C912.4,277.7 915.1,279.9 917.2,280.9 C919.4,281.8 923.7,281.1 925.8,282.3 C927.9,283.5 929,285.9 930,288 C931,290.1 931.7,292.6 931.5,295.2 C931.3,297.8 929,300.6 928.6,303.8 C928.2,307 930.1,310.4 928.9,314.6 C927.7,318.9 921.9,325.9 921.6,329.3 C921.4,332.7 925.2,333.2 927.4,335.2 C929.6,337.1 933.3,338.8 934.8,341 C936.3,343.2 936.7,345.6 936.2,348.3 C935.7,351 934,355.2 931.8,357.1 C929.6,359.1 925.9,360.2 923,360 C920.1,359.8 916.5,357.9 914.3,355.7 C912.1,353.5 911.6,348.1 909.9,346.9 C908.2,345.7 905.7,346.8 904,348.3 C902.3,349.8 902.3,354.2 899.6,355.7 C896.9,357.2 892,356.1 887.9,357.1 C883.8,358.1 879.1,360.3 874.7,361.5 C870.3,362.7 865.2,364.9 861.5,364.4 C857.8,363.9 855.9,360.1 852.7,358.6 C849.5,357.2 845.7,357.2 842.5,355.7 C839.3,354.2 836.2,352.7 833.7,349.8 C831.2,346.9 829.8,341.9 827.8,338.1 C825.8,334.3 824.7,330 822,327.1 C819.3,324.2 813.7,323.6 811.7,320.5 C809.8,317.4 810.1,312.3 810.3,308.8 C810.5,305.3 813.2,302.2 812.9,299.5 C812.6,296.8 809.4,295 808.6,292.4 C807.8,289.8 807.4,286.2 807.9,283.8 C808.4,281.4 809.1,279.1 811.4,278 C813.7,276.9 818.9,278 821.5,277.3 C824.1,276.6 826.5,275.2 827.2,273.8 C827.9,272.4 827.7,270 825.8,268.8 C823.9,267.6 818.3,267.8 815.7,266.6 C813.1,265.4 811.2,263.8 810,261.6 C808.8,259.5 808.1,256.3 808.6,253.7Z" fill="#e8716b" stroke="#7a2525" stroke-width="1.7"/>
<g clip-path="url(#cb4)"><path d="M922,300 C930,320 930,345 915,360 C890,368 850,368 830,350" fill="none" stroke="#d65f59" stroke-width="6" opacity="0.45"/></g>
<path d="M813,255 C815,250 820,248 825,249" fill="none" stroke="#f3a7a0" stroke-width="3" stroke-linecap="round" opacity="0.8"/><path d="M845,265 C850,259 857,256 864,256" fill="none" stroke="#f3a7a0" stroke-width="3" stroke-linecap="round" opacity="0.7"/><path d="M824,298 C822,310 823,322 828,330" fill="none" stroke="#f09a93" stroke-width="2.5" stroke-linecap="round" opacity="0.6"/>
<circle cx="939.4" cy="288.8" r="5" fill="#e8716b" stroke="#7a2525" stroke-width="1.3"/>
<circle cx="811.7" cy="337.4" r="5.8" fill="#e8716b" stroke="#7a2525" stroke-width="1.3"/>
<circle cx="846.1" cy="366.6" r="5.8" fill="#e8716b" stroke="#7a2525" stroke-width="1.3"/>
<ellipse cx="858.6" cy="316.8" rx="18" ry="16" fill="#b84b48" stroke="#7d2a2a" stroke-width="1.3"/>
<path d="M854.4,279.5 C854.9,277.6 857.6,274.9 860,273.8 C862.4,272.7 864.9,272.5 868.7,273 C872.5,273.5 879.4,275.3 882.9,276.6 C886.4,277.9 888,279.1 890,281 C892,282.9 894,285.2 895,288 C896,290.8 896.1,295.6 895.8,298 C895.4,300.4 894.3,302.4 892.9,302.4 C891.5,302.4 888.6,300.1 887.2,298 C885.8,295.9 886.2,291.6 884.3,289.5 C882.4,287.4 878.3,285.6 875.7,285.2 C873.1,284.8 871.8,287.4 868.7,287.4 C865.6,287.4 859.6,286.5 857.2,285.2 C854.8,283.9 853.9,281.4 854.4,279.5Z" fill="#b84b48" stroke="#7d2a2a" stroke-width="1.3"/>
<path d="M894,314.6 C896,313.9 900.2,319.1 901,322 C901.8,324.9 901.2,329.5 899,332 C896.8,334.5 890.4,336.8 888,337 C885.6,337.2 884.3,334.8 884.5,333 C884.7,331.2 887.4,329.1 889,326 C890.6,322.9 892,315.3 894,314.6Z" fill="#b84b48" stroke="#7d2a2a" stroke-width="1.3"/>
<ellipse cx="837.2" cy="290.2" rx="4.3" ry="5" fill="#b84b48" stroke="#7d2a2a" stroke-width="1"/>
<g>
<path d="M930.4,134.4 C931.8,134.1 935.9,136.2 937.9,136.6 C939.9,137 943.6,138 945.4,137.7 C947.2,137.4 949.7,135.1 951.4,134.4 C953.1,133.7 956,132.7 957.9,132.8 C959.8,132.9 963.8,134.4 965.4,135.5 C967,136.6 968.6,139.5 969.7,140.9 C970.8,142.3 972.6,145.2 974,146.2 C975.4,147.2 978.7,148 980.4,148.4 C982.1,148.8 985.8,148.5 986.8,149.5 C987.8,150.5 987.9,154.2 987.9,155.9 C987.9,157.6 986.5,160.7 986.8,162.3 C987.1,163.9 988.8,166.6 990.1,167.7 C991.4,168.8 995.4,170 996.5,170.9 C997.6,171.8 998.7,173 998.6,174.1 C998.5,175.2 996,178 995.4,179.5 C994.8,181 994.3,183.9 993.8,185.7 C993.3,187.5 992.3,191.1 991.7,193.3 C991.1,195.5 990.6,199.8 989.5,201.9 C988.4,204 984.7,207.3 983.1,209.4 C981.5,211.5 978.7,216 977.7,218 C976.7,220 976.3,224 975.6,224.4 C974.9,224.8 973.6,221.9 972.3,221.2 C971,220.5 967.9,219.1 965.9,219 C963.9,218.9 960,220 957.3,220.1 C954.6,220.2 948.4,220.5 945.5,220.1 C942.6,219.7 938.2,217.9 935.8,216.9 C933.4,215.9 929.5,213.9 927.2,212.6 C924.9,211.3 920.6,209.1 918.6,207.2 C916.6,205.3 913.5,200.7 912.2,198.6 C910.9,196.5 910.7,192.4 909,191.1 C907.3,189.8 899.7,190.3 899.3,189 C898.9,187.7 904.7,183.4 905.7,181.6 C906.7,179.8 907.1,176.6 906.8,175.2 C906.5,173.8 904.2,172.1 903.6,170.9 C903,169.7 901.8,167.2 902.5,166.1 C903.2,165 907.8,163.7 909,162.3 C910.2,160.9 911.2,157.6 911.6,155.9 C912,154.2 912.3,151 912.2,149.5 C912.1,148 910.5,145.2 911.1,144.6 C911.7,144 914.8,145.3 916.5,145.2 C918.2,145.1 922.6,145 924,144.1 C925.4,143.2 926.3,140 927.2,138.7 C928.1,137.4 929,134.7 930.4,134.4Z" fill="#7fbce0" stroke="#24577a" stroke-width="1.7" stroke-linejoin="round"/>
<g clip-path="url(#tc14)"><circle cx="953.4" cy="181.4" r="34.0" fill="none" stroke="#6aa9d6" stroke-width="5.1" opacity="0.25"/></g>
<path d="M931.5,158 C933.8,156.2 938.9,153.8 942.2,152.7 C945.5,151.6 950.8,150.3 953.6,150.5 C956.4,150.7 958.7,152.4 961.1,153.7 C963.5,155 967.6,157.3 969.7,159.1 C971.8,160.9 973.9,163.4 975,165.5 C976.1,167.6 976.6,170.6 977,173 C977.4,175.4 978.1,179 977.7,181.4 C977.3,183.8 976,187.2 974.5,189 C973,190.8 970.2,193 968,193.3 C965.8,193.6 961.4,192.2 959.5,191.1 C957.6,190 956.7,187.2 955.2,185.7 C953.7,184.2 952.1,182.5 949.8,181.4 C947.5,180.3 942.2,179.1 940.1,178.2 C938,177.3 937.6,176.3 935.8,175.2 C934,174.1 929.6,172.6 928.3,171 C927,169.4 926.7,166.4 927.2,164.5 C927.7,162.6 929.2,159.8 931.5,158Z" fill="#5297c8" stroke="#2a5f8c" stroke-width="1.5"/>
<path d="M914.7,168.5 A36.5,36.5 0 0 1 931.7,146.3" fill="none" stroke="#a9d5ef" stroke-width="2.2" stroke-linecap="round" opacity="0.8"/>
<path d="M935.8,165.7 Q938.5,155.2 954.7,154.3" fill="none" stroke="#86bfe6" stroke-width="2.4" stroke-linecap="round" opacity="0.85"/>
</g>
</g>
<g transform="translate(926.3,210.7) rotate(123.7)"><rect x="-1" y="-1.8" width="12" height="3.6" rx="1.5" fill="#3f82c2" stroke="#1d4a78" stroke-width="1"/><path d="M9,-3.2 L24.2,-2.5 L25.2,0 L24.2,2.5 L9,3.2Z" fill="#3f82c2" stroke="#1d4a78" stroke-width="1.2" stroke-linejoin="round"/></g>
<g transform="translate(933.5,214) rotate(112.2)"><rect x="-1" y="-1.8" width="12" height="3.6" rx="1.5" fill="#3f82c2" stroke="#1d4a78" stroke-width="1"/><path d="M9,-3.2 L23.8,-2.5 L24.8,0 L23.8,2.5 L9,3.2Z" fill="#3f82c2" stroke="#1d4a78" stroke-width="1.2" stroke-linejoin="round"/></g>
<circle cx="872.5" cy="342.5" r="2.5" fill="#b84b48" opacity="0.8"/><circle cx="881.5" cy="263.8" r="1.5" fill="#7d2a2a"/><circle cx="906.5" cy="295" r="2" fill="none" stroke="#7d2a2a" stroke-width="1"/>
<text x="807" y="403" font-size="17.5" textLength="172" lengthAdjust="spacingAndGlyphs" fill="#151515" stroke="#151515" stroke-width="0.5">Cancer Cell undergoes</text>
<text x="855" y="422" font-size="17.5" textLength="75" lengthAdjust="spacingAndGlyphs" fill="#151515" stroke="#151515" stroke-width="0.5">Apoptosis</text>
<path d="M932,274 C934.8,271.5 945,265 949,259 C953,253 954.8,241.5 956,238" fill="none" stroke="#1a1a1a" stroke-width="2.6" stroke-linecap="round"/>
<path d="M956.6,236.1 L946.6,245.4 L959.1,249.6Z" fill="#1a1a1a"/>
<path d="M238,261.5 L268,261.5 L268,253.5 L293,270.7 L268,288 L268,281.5 L238,281.5Z" fill="#d6e6f5" stroke="#111" stroke-width="2.5" stroke-linejoin="miter"/>
<path d="M493,261.5 L523,261.5 L523,253.5 L548,270.7 L523,288 L523,281.5 L493,281.5Z" fill="#d6e6f5" stroke="#111" stroke-width="2.5" stroke-linejoin="miter"/>
<path d="M742,261.5 L773,261.5 L773,253.5 L797,270.7 L773,288 L773,281.5 L742,281.5Z" fill="#d6e6f5" stroke="#111" stroke-width="2.5" stroke-linejoin="miter"/>
<path d="M143,476 C147.7,477.2 158.5,480.7 171,483.4 C183.5,486.1 200.4,488.6 218,492 C235.6,495.4 257,500.6 276.5,504 C296,507.4 315.5,510.5 335,512.7 C354.5,514.9 369.9,516 393.7,517 C417.5,518 450.9,519 478,518.8 C505.1,518.6 530,518 556,516 C582,514 607.9,510.8 634,507 C660.1,503.2 684.9,498.3 712.5,493.4 C740.1,488.5 784.9,480.1 799.4,477.4 L789.5,454.8 L869,475.4 L809,532.5 L808,511  C792.1,513.2 741.5,520.1 712.5,524 C683.5,527.9 660.1,531.9 634,534.5 C607.9,537.1 582,538.7 556,539.5 C530,540.3 504,540.2 478,539.5 C452,538.8 423.8,537.4 400,535 C376.2,532.6 355.6,528.5 335,525 C314.4,521.5 296,518 276.5,514 C257,510 233.2,504.8 218,501 C202.8,497.2 197.5,495.7 185,491.5 C172.5,487.3 150,478.6 143,476Z" fill="#d6e6f5" stroke="#222" stroke-width="3" stroke-linejoin="miter"/>
</svg></body></html>
